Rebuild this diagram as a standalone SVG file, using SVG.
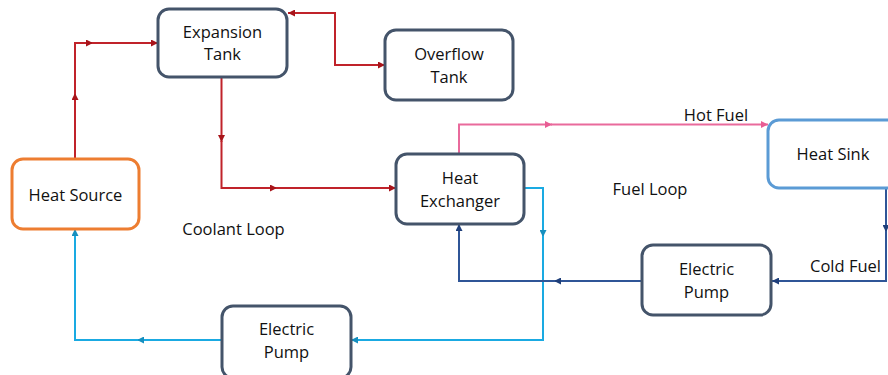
<svg xmlns="http://www.w3.org/2000/svg" width="888" height="375" viewBox="0 0 888 375">
<style>
.box{fill:#fff;stroke:#44546A;stroke-width:3}
.t{font-family:"Open Sans","Liberation Sans",sans-serif;font-size:16.5px;fill:#111;text-anchor:middle}
.c{fill:none;stroke-width:2}
.red{stroke:#C0232A}
.pink{stroke:#E96A9C}
.cyan{stroke:#1AAAE2}
.navy{stroke:#2F5597}
</style>
<defs>
<marker id="ar" viewBox="0 0 8 8" refX="8" refY="4" markerWidth="8" markerHeight="7" markerUnits="userSpaceOnUse" orient="auto"><path d="M0,0L8,4L0,8z" fill="#A8141A"/></marker>
<marker id="ap" viewBox="0 0 8 8" refX="8" refY="4" markerWidth="8" markerHeight="7" markerUnits="userSpaceOnUse" orient="auto"><path d="M0,0L8,4L0,8z" fill="#E85D94"/></marker>
<marker id="ac" viewBox="0 0 8 8" refX="8" refY="4" markerWidth="8" markerHeight="7" markerUnits="userSpaceOnUse" orient="auto"><path d="M0,0L8,4L0,8z" fill="#168FBF"/></marker>
<marker id="an" viewBox="0 0 8 8" refX="8" refY="4" markerWidth="8" markerHeight="7" markerUnits="userSpaceOnUse" orient="auto"><path d="M0,0L8,4L0,8z" fill="#1F3F7A"/></marker>
</defs>
<g id="connectors">
<path class="c red" d="M75,159V93" marker-end="url(#ar)"/>
<path class="c red" d="M75,94V43H93" marker-end="url(#ar)"/>
<path class="c red" d="M92,43H158" marker-end="url(#ar)"/>
<path class="c red" d="M221.5,77V142" marker-end="url(#ar)"/>
<path class="c red" d="M221.5,141V188H277" marker-end="url(#ar)"/>
<path class="c red" d="M276,188H396" marker-end="url(#ar)"/>
<path class="c red" d="M335,40V13H288" marker-end="url(#ar)"/>
<path class="c red" d="M335,38V65H385" marker-end="url(#ar)"/>
<path class="c pink" d="M459,154V124.5H552" marker-end="url(#ap)"/>
<path class="c pink" d="M551,124.5H768" marker-end="url(#ap)"/>
<path class="c cyan" d="M524,188H543V237" marker-end="url(#ac)"/>
<path class="c cyan" d="M543,236V340H351" marker-end="url(#ac)"/>
<path class="c cyan" d="M222,340H137" marker-end="url(#ac)"/>
<path class="c cyan" d="M138,340H75V229" marker-end="url(#ac)"/>
<path class="c navy" d="M886,188V232" marker-end="url(#an)"/>
<path class="c navy" d="M886,231V281H772" marker-end="url(#an)"/>
<path class="c navy" d="M642,281H554" marker-end="url(#an)"/>
<path class="c navy" d="M555,281H459V224" marker-end="url(#an)"/>
</g>
<g id="expansion-tank"><rect class="box" x="158" y="9" width="129" height="68" rx="11"/><text class="t" x="222.5" y="37.5">Expansion</text><text class="t" x="222.5" y="60">Tank</text></g>
<g id="overflow-tank"><rect class="box" x="385" y="30" width="128" height="70" rx="11"/><text class="t" x="449" y="60">Overflow</text><text class="t" x="449" y="82.5">Tank</text></g>
<g id="heat-source"><rect class="box" x="12" y="159" width="127" height="70" rx="11" style="stroke:#ED7D31"/><text class="t" x="75.5" y="201">Heat Source</text></g>
<g id="heat-exchanger"><rect class="box" x="396" y="154" width="128" height="70" rx="11"/><text class="t" x="460" y="184">Heat</text><text class="t" x="460" y="206.5">Exchanger</text></g>
<g id="heat-sink"><rect class="box" x="768" y="120" width="132" height="68" rx="11" style="stroke:#5B9BD5"/><text class="t" x="833" y="160">Heat Sink</text></g>
<g id="electric-pump-fuel"><rect class="box" x="642" y="245" width="129" height="70" rx="11"/><text class="t" x="706.5" y="275">Electric</text><text class="t" x="706.5" y="298">Pump</text></g>
<g id="electric-pump-coolant"><rect class="box" x="222" y="306" width="129" height="72" rx="11"/><text class="t" x="286.5" y="335">Electric</text><text class="t" x="286.5" y="358">Pump</text></g>
<g id="labels">
<text class="t" x="716" y="121">Hot Fuel</text>
<text class="t" x="650" y="195">Fuel Loop</text>
<text class="t" x="233.5" y="235">Coolant Loop</text>
<text class="t" x="845.5" y="271.5">Cold Fuel</text>
</g>
</svg>
